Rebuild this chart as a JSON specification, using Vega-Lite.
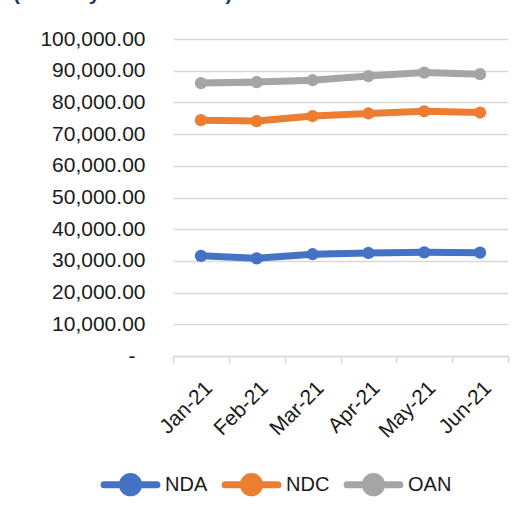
{
  "$schema": "https://vega.github.io/schema/vega-lite/v6.json",
  "width": 335,
  "height": 317,
  "autosize": {"type": "none"},
  "padding": {"left": 173, "top": 39, "right": 18, "bottom": 159},
  "background": "white",
  "title": {"text": "(January – June 2021)", "anchor": "start", "frame": "group", "dx": -160, "offset": 7, "baseline": "alphabetic", "fontSize": 21, "fontWeight": "bold", "color": "#203864", "font": "Liberation Sans"},
  "data": {"values": [
    {"month": "Jan-21", "series": "NDA", "value": 31600},
    {"month": "Feb-21", "series": "NDA", "value": 30800},
    {"month": "Mar-21", "series": "NDA", "value": 32100},
    {"month": "Apr-21", "series": "NDA", "value": 32500},
    {"month": "May-21", "series": "NDA", "value": 32700},
    {"month": "Jun-21", "series": "NDA", "value": 32600},
    {"month": "Jan-21", "series": "NDC", "value": 74400},
    {"month": "Feb-21", "series": "NDC", "value": 74100},
    {"month": "Mar-21", "series": "NDC", "value": 75700},
    {"month": "Apr-21", "series": "NDC", "value": 76500},
    {"month": "May-21", "series": "NDC", "value": 77200},
    {"month": "Jun-21", "series": "NDC", "value": 76800},
    {"month": "Jan-21", "series": "OAN", "value": 86100},
    {"month": "Feb-21", "series": "OAN", "value": 86400},
    {"month": "Mar-21", "series": "OAN", "value": 87000},
    {"month": "Apr-21", "series": "OAN", "value": 88300},
    {"month": "May-21", "series": "OAN", "value": 89400},
    {"month": "Jun-21", "series": "OAN", "value": 88900}
  ]},
  "encoding": {
    "x": {"field": "month", "type": "nominal", "sort": ["Jan-21", "Feb-21", "Mar-21", "Apr-21", "May-21", "Jun-21"],
      "scale": {"type": "band", "paddingInner": 0, "paddingOuter": 0},
      "axis": {"title": null, "labelAngle": -45, "labelFontSize": 21, "labelColor": "#1a1a1a", "labelPadding": 14,
        "tickBand": "extent", "domainColor": "#d9d9d9", "domainWidth": 1.5, "tickColor": "#d9d9d9", "tickWidth": 1.5, "tickSize": 7, "grid": false}},
    "y": {"field": "value", "type": "quantitative", "scale": {"domain": [0, 100000], "nice": false},
      "axis": {"title": null, "values": [0, 10000, 20000, 30000, 40000, 50000, 60000, 70000, 80000, 90000, 100000],
        "labelExpr": "datum.value == 0 ? '-' : format(datum.value, ',.2f')",
        "labelFontSize": 21, "labelColor": "#1a1a1a",
        "labelPadding": {"condition": {"test": "datum.value == 0", "value": 38}, "value": 28},
        "domain": false, "ticks": false,
        "grid": true, "gridColor": "#d9d9d9", "gridWidth": 1.5}},
    "color": {"field": "series", "type": "nominal",
      "scale": {"domain": ["NDA", "NDC", "OAN"], "range": ["#4472C4", "#ED7D31", "#A5A5A5"]}}
  },
  "layer": [
    {"mark": {"type": "line", "strokeWidth": 7, "strokeCap": "round", "strokeJoin": "round"},
     "encoding": {"color": {"field": "series", "type": "nominal",
       "legend": {"title": null, "orient": "none", "legendX": -76, "legendY": 412, "direction": "horizontal",
         "symbolType": "M-0.88,0L0.88,0M-0.27,0A0.27,0.27 0 1 1 0.27,0A0.27,0.27 0 1 1 -0.27,0Z",
         "symbolSize": 3600, "symbolStrokeWidth": 7, "labelFontSize": 20, "labelColor": "#1a1a1a", "labelOffset": 1, "columnPadding": 3, "padding": 0,
         "encode": {"symbols": {"update": {"fill": {"scale": "color", "field": "value"}, "stroke": {"scale": "color", "field": "value"}, "strokeCap": {"value": "round"}, "opacity": {"value": 1}}}}}}}},
    {"mark": {"type": "point", "filled": true, "size": 150, "opacity": 1},
     "encoding": {"color": {"field": "series", "type": "nominal", "legend": null}}}
  ],
  "config": {"view": {"stroke": null}, "font": "Liberation Sans"}
}
